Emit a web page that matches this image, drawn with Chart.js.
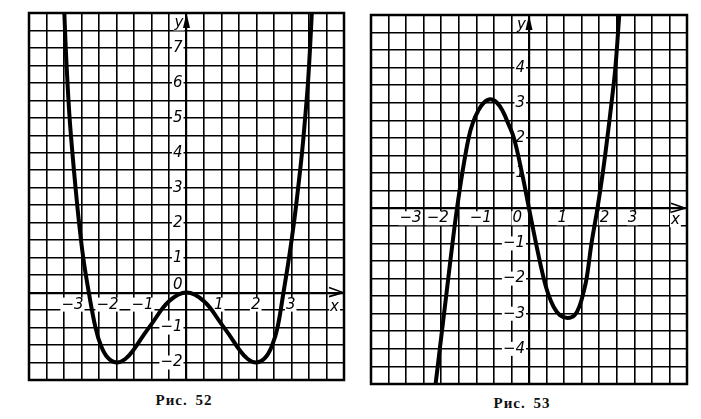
<!DOCTYPE html>
<html>
<head>
<meta charset="utf-8">
<script src="https://cdn.jsdelivr.net/npm/chart.js@4.4.0/dist/chart.umd.min.js"></script>
<style>
    body { margin: 0; background: #fff; }
    #page { position: relative; width: 701px; height: 419px; overflow: hidden; }
    canvas { position: absolute; }
    .caption {
        position: absolute;
        width: 120px;
        text-align: center;
        font: bold 15px 'Liberation Serif', serif;
        letter-spacing: 1px;
        word-spacing: 3px;
        color: #111;
    }
</style>
</head>
<body>
<div id="page">
    <canvas id="chart52" width="323" height="375" style="left:25px; top:9px;"></canvas>
    <canvas id="chart53" width="324" height="377" style="left:367px; top:11px;"></canvas>
    <div class="caption" style="left:124px; top:392px;">Рис. 52</div>
    <div class="caption" style="left:462px; top:395px;">Рис. 53</div>
</div>
<script>
// ===== DATA =====
// Рис. 52
const curve52X = [-3.49, -3.45, -3.4, -3.34, -3.26, -3.17, -3.07, -2.95, -2.79, -2.6, -2.45, -2.25, -2.0, -1.75, -1.5, -1.25, -1.0, -0.5, 0,
                  0.5, 1.0, 1.25, 1.5, 1.75, 2.0, 2.25, 2.45, 2.6, 2.77, 2.93, 3.07, 3.19, 3.3, 3.39, 3.47, 3.53, 3.58];
const curve52Y = [8, 7, 6, 5, 4, 3, 2, 1, 0, -1, -1.5, -1.86, -2, -1.9, -1.62, -1.25, -0.9, -0.25, 0,
                  -0.25, -0.9, -1.25, -1.62, -1.9, -2, -1.86, -1.5, -1, 0, 1, 2, 3, 4, 5, 6, 7, 8];
const xTicks52 = [-3, -2, -1, 1, 2, 3];
const yTicks52 = [-2, -1, 0, 1, 2, 3, 4, 5, 6, 7];

// Рис. 53
const curve53X = [-2.66, -2.54, -2.42, -2.3, -2.18, -2.05, -1.9, -1.72, -1.6, -1.45, -1.28, -1.1, -0.92, -0.75, -0.6, -0.43, -0.2, 0,
                  0.2, 0.42, 0.55, 0.7, 0.88, 1.1, 1.3, 1.45, 1.55, 1.64, 1.78, 1.95, 2.1, 2.23, 2.35, 2.46, 2.57];
const curve53Y = [-5, -4, -3, -2, -1, 0, 1, 2, 2.43, 2.77, 3.01, 3.1, 3.01, 2.77, 2.43, 2, 1, 0,
                  -1, -2, -2.45, -2.8, -3.04, -3.12, -3.04, -2.75, -2.4, -2, -1, 0, 1, 2, 3, 4, 5.5];
const xTicks53 = [-3, -2, -1, 0, 1, 2, 3];
const yTicks53 = [-4, -3, -2, -1, 1, 2, 3, 4];

// ===== CHART.JS DEFAULTS =====
Chart.defaults.font.family = "'DejaVu Sans', sans-serif";
Chart.defaults.color = '#000';

const INK = '#000';
const LABEL_FONT = 'italic 15px "DejaVu Sans", sans-serif';

function fmt(v) {
    return v < 0 ? '\u2212' + Math.abs(v) : String(v);
}

function drawLabel(ctx, text, x, y, align) {
    const w = ctx.measureText(text).width;
    const left = align === 'right' ? x - w : (align === 'center' ? x - w / 2 : x);
    ctx.fillStyle = '#fff';
    ctx.fillRect(left - 1, y - 7, w + 2, 14);
    ctx.fillStyle = INK;
    ctx.textAlign = align;
    ctx.fillText(text, x, y);
}

// ===== AXES, LABELS, ARROWS, FRAME =====
const axisDecor = {
    id: 'axisDecor',
    beforeDatasetsDraw(chart, args, opts) {
        const { ctx, scales: { x, y } } = chart;
        const x0 = x.getPixelForValue(0);
        const y0 = y.getPixelForValue(0);

        ctx.save();
        ctx.font = LABEL_FONT;
        ctx.textBaseline = 'middle';

        opts.xTicks.forEach(v => {
            const nudge = (opts.xNudge && opts.xNudge[v]) || 0;
            drawLabel(ctx, fmt(v), x.getPixelForValue(v) + opts.xShift + nudge, y0 + opts.xGap, 'right');
        });
        opts.yTicks.forEach(v => {
            const dy = v === 0 ? -8 : 0;
            drawLabel(ctx, fmt(v), x0 - 4, y.getPixelForValue(v) + dy, 'right');
        });

        // axis names
        drawLabel(ctx, 'x', x.getPixelForValue(opts.xNamePos), y0 + opts.xGap + 2, 'center');
        drawLabel(ctx, 'y', x0 - 3, y.getPixelForValue(opts.yNamePos), 'right');

        // y arrow
        const top = chart.chartArea.top;
        ctx.fillStyle = INK;
        ctx.beginPath();
        ctx.moveTo(x0, top);
        ctx.lineTo(x0 - 3.5, top + 15);
        ctx.lineTo(x0 + 3.5, top + 15);
        ctx.closePath();
        ctx.fill();

        // x arrow
        const tip = chart.chartArea.right - opts.xArrowInset;
        ctx.strokeStyle = INK;
        ctx.lineWidth = 1.6;
        ctx.beginPath();
        ctx.moveTo(tip - 14, y0 - 5);
        ctx.lineTo(tip, y0);
        ctx.lineTo(tip - 14, y0 + 4);
        ctx.stroke();
        ctx.restore();
    },
    afterDraw(chart) {
        const { ctx, chartArea: a } = chart;
        ctx.save();
        ctx.strokeStyle = INK;
        ctx.lineWidth = 2.5;
        ctx.strokeRect(a.left, a.top, a.right - a.left, a.bottom - a.top);
        ctx.restore();
    }
};

function gridScale(min, max) {
    return {
        type: 'linear',
        min: min,
        max: max,
        ticks: { display: false, stepSize: 0.5 },
        border: { display: false },
        grid: {
            drawTicks: false,
            color: INK,
            lineWidth: function (context) {
                return context.tick && context.tick.value === 0 ? 2.2 : 1.6;
            }
        }
    };
}

function initGraph(id, xs, ys, yMin, yMax, decor) {
    const ctx = document.getElementById(id);
    if (!ctx || typeof Chart === 'undefined') return;

    return new Chart(ctx, {
        type: 'scatter',
        data: {
            datasets: [{
                data: xs.map((v, i) => ({ x: v, y: ys[i] })),
                showLine: true,
                borderColor: INK,
                borderWidth: 4,
                pointRadius: 0,
                tension: 0.4,
                clip: 0
            }]
        },
        options: {
            responsive: false,
            animation: false,
            devicePixelRatio: 1,
            layout: { padding: 4 },
            plugins: {
                legend: { display: false },
                tooltip: { enabled: false },
                axisDecor: decor
            },
            scales: {
                x: gridScale(-4.5, 4.5),
                y: gridScale(yMin, yMax)
            }
        },
        plugins: [axisDecor]
    });
}

// ===== INIT =====
initGraph('chart52', curve52X, curve52Y, -2.5, 8, {
    xTicks: xTicks52, yTicks: yTicks52,
    xShift: 2, xGap: 12, xNudge: { 2: 2, 3: 2 },
    xNamePos: 4.23, yNamePos: 7.7, xArrowInset: 1
});

initGraph('chart53', curve53X, curve53Y, -5, 5.5, {
    xTicks: xTicks53, yTicks: yTicks53,
    xShift: 2, xGap: 10, xNudge: { '-3': -4, '-2': -12, '-1': -4, 0: -9, 1: 1, 2: 8, 3: 1 },
    xNamePos: 4.17, yNamePos: 5.22, xArrowInset: 2
});
</script>
</body>
</html>
